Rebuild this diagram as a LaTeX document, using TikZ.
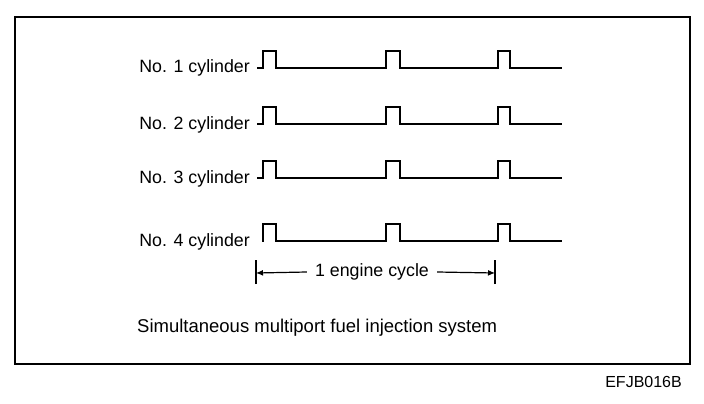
\documentclass[tikz,border=0pt]{standalone}
\usepackage{fontspec}
\setmainfont{Liberation Sans}
\usetikzlibrary{arrows.meta}
\begin{document}
\begin{tikzpicture}[x=1pt,y=-1pt,
  wave/.style={line width=2.8pt, line join=miter},
  lbl/.style={font=\fontsize{17.8}{20}\selectfont, inner sep=0pt},
  dim/.style={line width=1.2pt}]
\useasboundingbox (0,0) rectangle (704,404);
\draw[line width=1.8pt] (15,17) rectangle (690,364);
\foreach \i/\y/\s in {1/68/257,2/124/257,3/178/257,4/241/262} {
  \node[lbl, anchor=base east] (c\i) at (250,\y+5) {No. \i\ cylinder};
  \coordinate (w\i) at (\s,\y);
  \draw[wave] (w\i) -- (263,\y) -- ++(0,-17) -- ++(13,0) -- ++(0,17)
     -- ++(110,0) -- ++(0,-17) -- ++(14,0) -- ++(0,17)
     -- ++(98,0) -- ++(0,-17) -- ++(12,0) -- ++(0,17) -- ++(52,0);
}
\coordinate (cl) at (256,273);
\coordinate (cr) at (495,273);
\draw[dim] ([yshift=-11pt]cl) -- ([yshift=13pt]cl);
\draw[dim] ([yshift=-11pt]cr) -- ([yshift=13pt]cr);
\node[lbl, inner xsep=8pt] (cyc) at (372,272) {1 engine cycle};
\draw[dim,-{Latex[length=7pt,width=6pt]}] (cyc.west) -- (cl);
\draw[dim,-{Latex[length=7pt,width=6pt]}] (cyc.east) -- (cr);
\node[lbl, anchor=base west, font=\fontsize{18.5}{21}\selectfont] (title) at (137,332) {Simultaneous multiport fuel injection system};
\node[lbl, anchor=base east, font=\fontsize{16}{18}\selectfont] (code) at (682,387) {EFJB016B};
\end{tikzpicture}
\end{document}
